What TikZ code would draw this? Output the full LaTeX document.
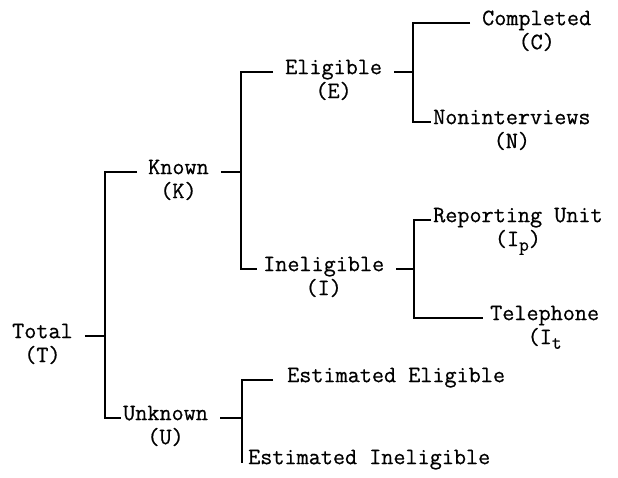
\documentclass[tikz,border=0pt]{standalone}
\usepackage{fontspec}
\setmonofont[FakeBold=0.6]{Latin Modern Mono}
\newcommand{\lowidx}[1]{\raisebox{-0.45ex}{\fontsize{19}{19}\selectfont #1}}

\begin{document}
\begin{tikzpicture}[x=1pt,y=-1pt,
    word/.style={font=\fontsize{23.5}{24}\selectfont\ttfamily, inner sep=0pt, anchor=mid west},
    code/.style={font=\fontsize{23.5}{24}\selectfont\ttfamily, inner sep=0pt, anchor=mid},
    tree/.style={line width=1.4pt}]
    \useasboundingbox (0,0) rectangle (618,477);

    % spines of the brackets
    \coordinate (rootspine) at (105,300);
    \coordinate (knownspine) at (241,170);
    \coordinate (unknownspine) at (242,420);
    \coordinate (eligspine) at (413,70);
    \coordinate (ineligspine) at (414,270);

    \node[word] (total) at (12,336) {Total};
    \node[code] (totalc) at ([yshift=-24pt]total.mid) {(T)};
    \node[word] (known) at (148,172) {Known};
    \node[code] (knownc) at ([yshift=-24pt]known.mid) {(K)};
    \node[word] (unknown) at (123,418) {Unknown};
    \node[code] (unknownc) at ([yshift=-24pt]unknown.mid) {(U)};

    \node[word] (elig) at (285,72) {Eligible};
    \node[code] (eligc) at ([yshift=-24pt]elig.mid) {(E)};
    \node[word] (inelig) at (263,269) {Ineligible};
    \node[code] (ineligc) at ([yshift=-24pt]inelig.mid) {(I)};
    \node[word] (esteli) at (287,380) {Estimated Eligible};
    \node[word] (estinel) at (248,462) {Estimated Ineligible};

    \node[word] (compl) at (482,23) {Completed};
    \node[code] (complc) at ([yshift=-24pt]compl.mid) {(C)};
    \node[word] (nonint) at (433,122) {Noninterviews};
    \node[code] (nonintc) at ([yshift=-24pt]nonint.mid) {(N)};
    \node[word] (repunit) at (433,220) {Reporting Unit};
    \node[code] (repunitc) at ([yshift=-24pt]repunit.mid) {(I\lowidx{p})};
    \node[word] (teleph) at (490,318) {Telephone};
    \node[code] (telephc) at ([yshift=-24pt]teleph.mid) {(I\lowidx{t}};

    % brackets
    \draw[tree, shorten <=11pt, shorten >=2pt] (known.mid west) -| (rootspine) |- (unknown.mid west);
    \draw[tree, shorten <=12pt, shorten >=6pt] (elig.mid west) -| (knownspine) |- (inelig.mid west);
    \draw[tree, shorten <=14pt, shorten >=5pt] (esteli.mid west) -| (unknownspine) |- (estinel.mid west);
    \draw[tree, shorten <=12pt, shorten >=2pt] (compl.mid west) -| (eligspine) |- (nonint.mid west);
    \draw[tree, shorten <=2pt, shorten >=7pt] (repunit.mid west) -| (ineligspine) |- (teleph.mid west);

    % ticks
    \draw[tree, shorten <=12pt] (total.mid east) -- (total.mid east -| rootspine);
    \draw[tree, shorten <=12pt] (known.mid east) -- (known.mid east -| knownspine);
    \draw[tree, shorten <=12pt] (unknown.mid east) -- (unknown.mid east -| unknownspine);
    \draw[tree, shorten <=12pt] (elig.mid east) -- (elig.mid east -| eligspine);
    \draw[tree, shorten <=12pt] (inelig.mid east) -- (inelig.mid east -| ineligspine);
\end{tikzpicture}
\end{document}
